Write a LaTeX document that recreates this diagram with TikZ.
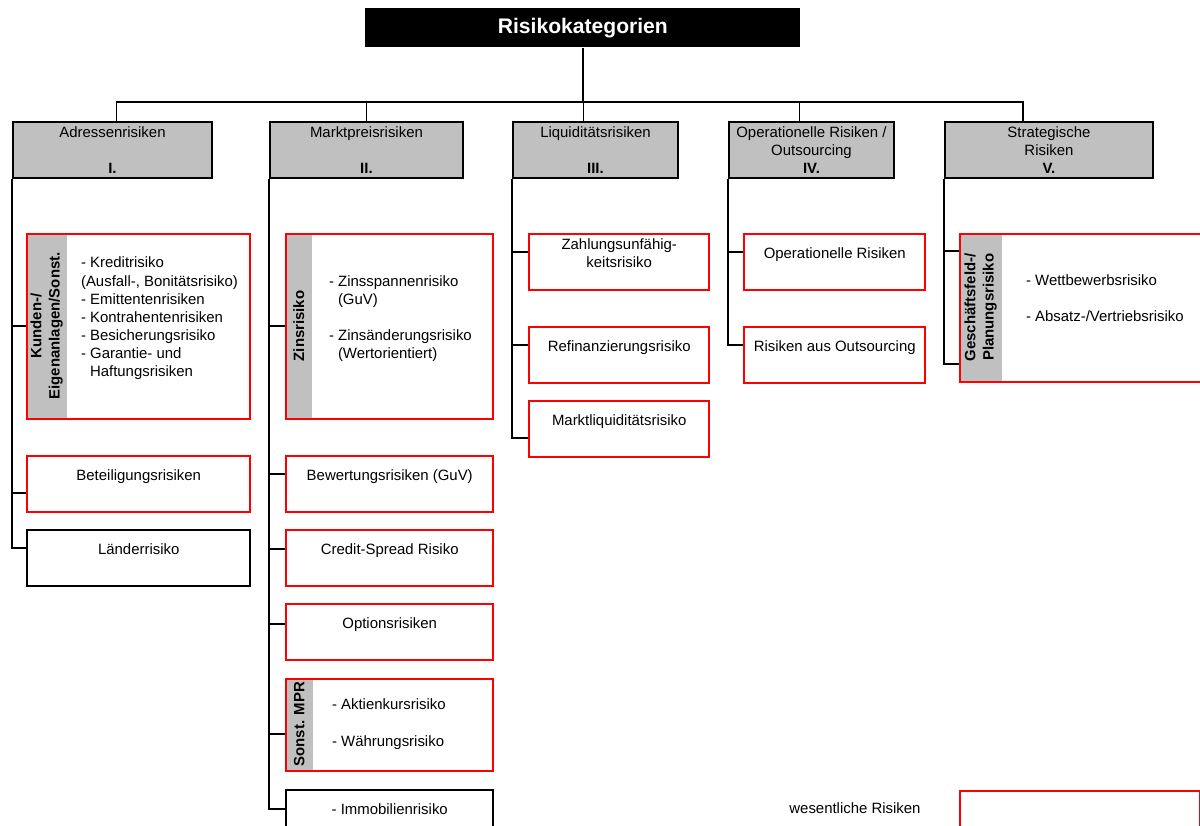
\documentclass[tikz,border=0pt]{standalone}
\usepackage{fontspec}
\setmainfont{Liberation Sans}
\usepackage{graphicx}
\usepackage{tikz}
\usetikzlibrary{positioning}
\definecolor{kopfgrau}{HTML}{C0C0C0}
\definecolor{wesentlich}{HTML}{FF0000}
\newlength{\unitpx}
\setlength{\unitpx}{0.02cm}
\pgfdeclarelayer{hinten}
\pgfsetlayers{hinten,main}
\tikzset{
  titel/.style={fill=black, text=white, inner sep=0pt, anchor=north west,
                font=\bfseries\fontsize{12}{14}\selectfont,
                minimum width=435*\unitpx, minimum height=39*\unitpx},
  kopf/.style={draw=black, fill=kopfgrau, line width=1.1pt, align=center, inner sep=0pt,
               anchor=north west, minimum width=#1*\unitpx, minimum height=56*\unitpx},
  kasten/.style={draw=#1, line width=1.4pt, align=center, inner sep=0pt,
                 minimum height=56*\unitpx},
  breite/.style={minimum width=#1*\unitpx},
  leiste/.style={fill=kopfgrau, inner sep=0pt, anchor=north west,
                 font=\bfseries\fontsize{8.5}{10.3}\selectfont},
  liste/.style={align=left, inner sep=0pt},
  linie/.style={draw=black, line width=1.1pt},
}

\begin{document}
\begin{tikzpicture}[x=0.02cm, y=-0.02cm, font=\fontsize{8.5}{10.3}\selectfont]
\useasboundingbox (0,0) rectangle (1200,825);
\clip (0,0) rectangle (1200,825);

% Kopf
\node[titel] (risk) at (365,8) {Risikokategorien};
\coordinate (bus) at (582,102);

% Risikoarten
\node[kopf=199] (adr) at (12,121) {Adressenrisiken\\\mbox{}\\\textbf{I.}};
\node[kopf=193] (mkt) at (269,121) {Marktpreisrisiken\\\mbox{}\\\textbf{II.}};
\node[kopf=165] (liq) at (512,121) {Liquiditätsrisiken\\\mbox{}\\\textbf{III.}};
\node[kopf=165] (opr) at (728,121) {Operationelle Risiken /\\Outsourcing\\\textbf{IV.}};
\node[kopf=208] (str) at (944,121) {Strategische\\Risiken\\\textbf{V.}};

% I. Adressenrisiken
\node[kasten=wesentlich, breite=223, minimum height=185*\unitpx, anchor=north west] (kunden) at (26,233) {};
\begin{pgfonlayer}{hinten}
  \node[leiste, breite=41, minimum height=185*\unitpx] (kundenS) at (kunden.north west)
    {\rotatebox{90}{\begin{tabular}{@{}c@{}}Kunden-/\\Eigenanlagen/Sonst.\end{tabular}}};
\end{pgfonlayer}
\node[liste, right=0.26cm of kundenS] (kundenL)
  {- Kreditrisiko\\(Ausfall-, Bonitätsrisiko)\\- Emittentenrisiken\\- Kontrahentenrisiken\\
   - Besicherungsrisiko\\- Garantie- und\\\hspace*{0.6em}Haftungsrisiken\\\mbox{}};
\node[kasten=wesentlich, breite=223, below=0.69cm of kunden] (beteil) {Beteiligungsrisiken\\\mbox{}};
\node[kasten=black, breite=223, below=0.31cm of beteil] (laender) {Länderrisiko\\\mbox{}};

% II. Marktpreisrisiken
\node[kasten=wesentlich, breite=207, minimum height=185*\unitpx, anchor=north west] (zins) at (285,233) {};
\begin{pgfonlayer}{hinten}
  \node[leiste, breite=27, minimum height=185*\unitpx] (zinsS) at (zins.north west)
    {\rotatebox{90}{Zinsrisiko}};
\end{pgfonlayer}
\node[liste, right=0.32cm of zinsS] (zinsL)
  {- Zinsspannenrisiko\\\hspace*{0.6em}(GuV)\\\mbox{}\\- Zinsänderungsrisiko\\\hspace*{0.6em}(Wertorientiert)\\\mbox{}};
\node[kasten=wesentlich, breite=207, below=0.69cm of zins] (bewert) {Bewertungsrisiken (GuV)\\\mbox{}};
\node[kasten=wesentlich, breite=207, below=0.31cm of bewert] (credit) {Credit-Spread Risiko\\\mbox{}};
\node[kasten=wesentlich, breite=207, below=0.31cm of credit] (option) {Optionsrisiken\\\mbox{}};
\node[kasten=wesentlich, breite=207, minimum height=92*\unitpx, below=0.33cm of option] (mpr) {};
\begin{pgfonlayer}{hinten}
  \node[leiste, breite=28, minimum height=92*\unitpx] (mprS) at (mpr.north west)
    {\rotatebox{90}{Sonst. MPR}};
\end{pgfonlayer}
\node[liste, right=0.36cm of mprS] (mprL) {- Aktienkursrisiko\\\mbox{}\\- Währungsrisiko};
\node[kasten=black, breite=207, below=0.33cm of mpr] (immo) {- Immobilienrisiko\\\mbox{}};

% III. Liquiditaetsrisiken
\node[kasten=wesentlich, breite=180, anchor=north west] (zahlung) at (528,233) {Zahlungsunfähig-\\keitsrisiko\\\mbox{}};
\node[kasten=wesentlich, breite=180, below=0.69cm of zahlung] (refin) {Refinanzierungsrisiko\\\mbox{}};
\node[kasten=wesentlich, breite=180, below=0.31cm of refin] (marktl) {Marktliquiditätsrisiko\\\mbox{}};

% IV. Operationelle Risiken
\node[kasten=wesentlich, breite=181, anchor=north west] (oprisk) at (743,233) {Operationelle Risiken\\\mbox{}};
\node[kasten=wesentlich, breite=181, below=0.69cm of oprisk] (outs) {Risiken aus Outsourcing\\\mbox{}};

% V. Strategische Risiken
\node[kasten=wesentlich, breite=247, minimum height=148*\unitpx, anchor=north west] (gesch) at (959,233) {};
\begin{pgfonlayer}{hinten}
  \node[leiste, breite=43, minimum height=148*\unitpx] (geschS) at (gesch.north west)
    {\rotatebox{90}{\begin{tabular}{@{}c@{}}Geschäftsfeld-/\\Planungsrisiko\end{tabular}}};
\end{pgfonlayer}
\node[liste, right=0.46cm of geschS] (geschL) {- Wettbewerbsrisiko\\\mbox{}\\- Absatz-/Vertriebsrisiko\\\mbox{}};

% Legende
\node (legende) at (855,808) {wesentliche Risiken};
\node[kasten=wesentlich, breite=240, anchor=north west] (legbox) at (959,790) {};

% Verbindungen
\draw[linie] (risk.south) -- (risk.south |- bus);
\draw[linie] ([xshift=4*\unitpx]adr.north) |- (bus) -| ([xshift=-26*\unitpx]str.north);
\foreach \kopf/\dx in {mkt/0, liq/-12, opr/-12}
  \draw[linie] ([xshift=\dx*\unitpx]\kopf.north) |- (bus);
\foreach \ziel/\dy in {kundenS/0, beteil/-9, laender/10}
  \draw[linie] (adr.south west) |- ([yshift=\dy*\unitpx]\ziel.west);
\foreach \ziel/\dy in {zinsS/0, bewert/10, credit/9, option/8, mprS/-10, immo/9}
  \draw[linie] (mkt.south west) |- ([yshift=\dy*\unitpx]\ziel.west);
\foreach \ziel/\dy in {zahlung/10, refin/10, marktl/-9}
  \draw[linie] (liq.south west) |- ([yshift=\dy*\unitpx]\ziel.west);
\foreach \ziel/\dy in {oprisk/10, outs/10}
  \draw[linie] (opr.south west) |- ([yshift=\dy*\unitpx]\ziel.west);
\draw[linie] (str.south west) |- ([yshift=-18*\unitpx]geschS.north west);
\draw[linie] (str.south west) |- ([yshift=18*\unitpx]geschS.south west);
\end{tikzpicture}
\end{document}
